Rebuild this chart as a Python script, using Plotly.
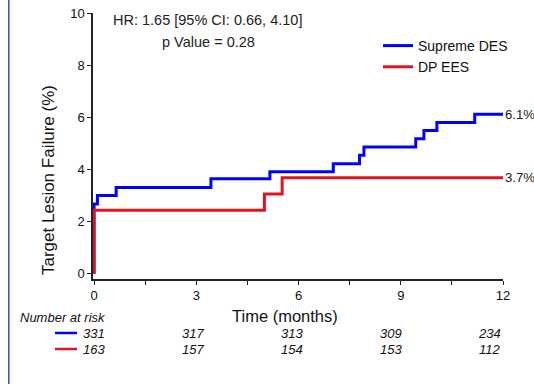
import plotly.graph_objects as go

# Data
supreme_t = [0, 0, 0.1, 0.65, 3.43, 5.16, 7.02, 7.79, 7.92, 9.44, 9.68, 10.06, 11.17, 12]
supreme_y = [0, 2.68, 3.0, 3.31, 3.64, 3.91, 4.22, 4.55, 4.86, 5.18, 5.49, 5.8, 6.12, 6.12]
dp_t = [0, 0, 5.0, 5.52, 12]
dp_y = [0, 2.44, 3.06, 3.68, 3.68]
end_labels = ["6.1%", "3.7%"]
risk_times = [0, 3, 6, 9, 12]
risk_supreme = [331, 317, 313, 309, 234]
risk_dp = [163, 157, 154, 153, 112]
series_names = ["Supreme DES", "DP EES"]
series_colors = ["#0000ff", "#e0141e"]

FONT = "Liberation Sans, Arial, sans-serif"
FW, FH = 534, 384
L, T, W, H = 93, 13, 410, 266


def px(xp):
    return (xp - L) / W


def py(yp):
    return 1 - (yp - T) / H


fig = go.Figure()
fig.add_trace(go.Scatter(x=supreme_t, y=supreme_y, mode="lines", line=dict(shape="hv", color=series_colors[0], width=3),
                         name=series_names[0]))
fig.add_trace(go.Scatter(x=dp_t, y=dp_y, mode="lines", line=dict(shape="hv", color=series_colors[1], width=3),
                         name=series_names[1]))

ann = []
ann.append(dict(x=supreme_t[-1], y=supreme_y[-1], text=end_labels[0], showarrow=False, xanchor="left", xshift=0,
                font=dict(size=13.2, color="#222")))
ann.append(dict(x=dp_t[-1], y=dp_y[-1], text=end_labels[1], showarrow=False, xanchor="left", xshift=0,
                font=dict(size=13.2, color="#222")))
ann.append(dict(xref="paper", yref="paper", x=px(111), y=py(20), text="HR: 1.65 [95% CI: 0.66, 4.10]",
                showarrow=False, xanchor="left", yanchor="middle", font=dict(size=14.5, color="#222")))
ann.append(dict(xref="paper", yref="paper", x=px(208), y=py(42), text="p Value = 0.28",
                showarrow=False, xanchor="center", yanchor="middle", font=dict(size=14.5, color="#222")))
ann.append(dict(xref="paper", yref="paper", x=px(18), y=py(317), text="<i>Number at risk</i>",
                showarrow=False, xanchor="left", yanchor="middle", font=dict(size=13, color="#111")))
ann.append(dict(xref="paper", yref="paper", x=px(285), y=py(316), text="Time (months)",
                showarrow=False, xanchor="center", yanchor="middle", font=dict(size=16.5, color="#111")))
ann.append(dict(xref="paper", yref="paper", x=px(48), y=py(180), text="Target Lesion Failure (%)", textangle=-90,
                showarrow=False, xanchor="center", yanchor="middle", font=dict(size=17, color="#111")))
for t, a, b in zip(risk_times, risk_supreme, risk_dp):
    ann.append(dict(x=t, yref="paper", y=py(333), text=f"<i>{a}</i>", showarrow=False,
                    xanchor="center", yanchor="middle", xshift=-1.1 * t, font=dict(size=13, color="#111")))
    ann.append(dict(x=t, yref="paper", y=py(349), text=f"<i>{b}</i>", showarrow=False,
                    xanchor="center", yanchor="middle", xshift=-1.1 * t, font=dict(size=13, color="#111")))

shapes = []
shapes.append(dict(type="line", xref="paper", yref="paper", x0=px(55), x1=px(77),
                   y0=py(333), y1=py(333), line=dict(color=series_colors[0], width=2.5)))
shapes.append(dict(type="line", xref="paper", yref="paper", x0=px(55), x1=px(77),
                   y0=py(349), y1=py(349), line=dict(color=series_colors[1], width=2.5)))
shapes.append(dict(type="line", xref="paper", yref="paper", x0=px(8.8), x1=px(8.8),
                   y0=py(0), y1=py(384), line=dict(color="#3b4ea0", width=1.5)))

fig.update_layout(
    template="none",
    width=FW, height=FH,
    margin=dict(l=L, r=FW - L - W, t=T, b=FH - T - H, autoexpand=False),
    paper_bgcolor="white", plot_bgcolor="white",
    font=dict(family=FONT, color="#222"),
    showlegend=True,
    legend=dict(x=px(378), y=py(30), xanchor="left", yanchor="top",
                bgcolor="rgba(0,0,0,0)", font=dict(size=14, color="#111"),
                itemwidth=30, tracegroupgap=0),
    xaxis=dict(range=[-0.03, 12], tickvals=[0, 1.5, 3, 4.5, 6, 7.5, 9, 10.5, 12],
               ticktext=["0", "", "3", "", "6", "", "9", "", "12"], automargin=False,
               ticklabeloverflow="allow",
               showline=True, linecolor="#222", linewidth=1.5, ticks="outside", ticklen=4, tickcolor="#222",
               showgrid=False, zeroline=False, tickfont=dict(size=13, color="#111")),
    yaxis=dict(range=[-0.2, 10], tickvals=[0, 2, 4, 6, 8, 10], automargin=False,
               ticklabeloverflow="allow",
               showline=True, linecolor="#222", linewidth=1.5, ticks="outside", ticklen=4, tickcolor="#222",
               showgrid=False, zeroline=False, tickfont=dict(size=13, color="#111")),
    annotations=ann, shapes=shapes,
)
fig.write_html("out.html", config={"displayModeBar": False},
               post_script="document.documentElement.style.margin='0';document.body.style.margin='0';"
                           "document.body.style.overflow='hidden';")
